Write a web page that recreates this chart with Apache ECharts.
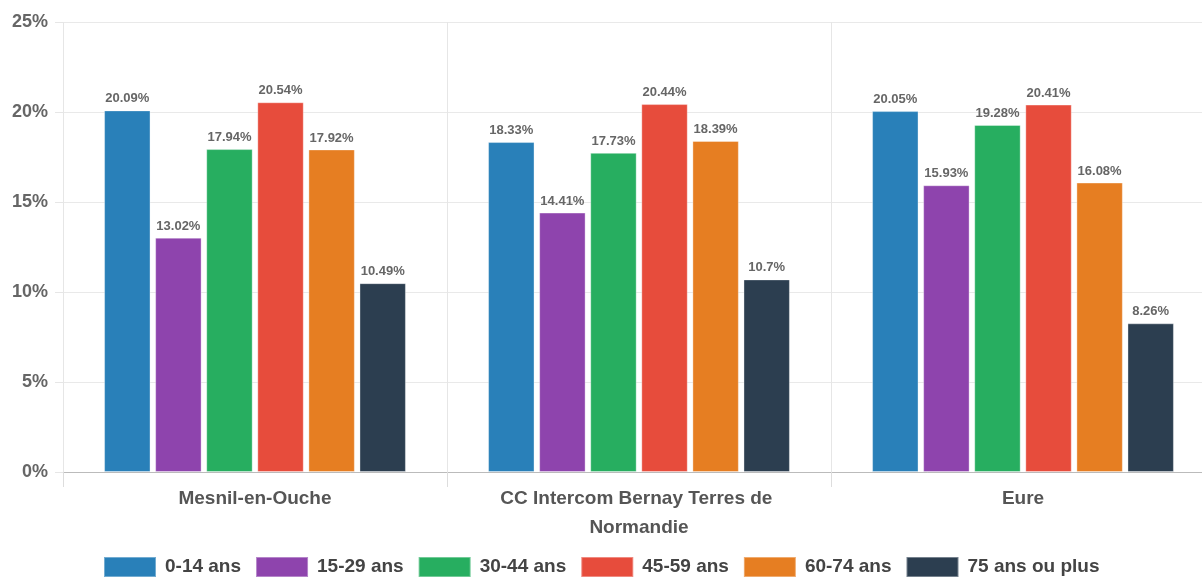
<!DOCTYPE html>
<html>
<head>
<meta charset="utf-8">
<script src="https://cdn.jsdelivr.net/npm/echarts@6/dist/echarts.min.js"></script>
<style>
  html, body { margin: 0; padding: 0; background: #fff; overflow: hidden; }
  /* un peu plus large que la fenêtre : la dernière catégorie est coupée à droite */
  #chart { width: 1215px; height: 577px; }
</style>
</head>
<body>
<div id="chart"></div>
<script>
// territoires et tranches d'âge
const territoires = ['Mesnil-en-Ouche', 'CC Intercom Bernay Terres de Normandie', 'Eure'];
const tranches = ['0-14 ans', '15-29 ans', '30-44 ans', '45-59 ans', '60-74 ans', '75 ans ou plus'];
const couleurs = ['#2980b9', '#8e44ad', '#27ae60', '#e74c3c', '#e67e22', '#2c3e50'];

// parts par tranche (une liste par tranche, dans l'ordre des territoires)
const part0_14 = [20.09, 18.33, 20.05];
const part15_29 = [13.02, 14.41, 15.93];
const part30_44 = [17.94, 17.73, 19.28];
const part45_59 = [20.54, 20.44, 20.41];
const part60_74 = [17.92, 18.39, 16.08];
const part75 = [10.49, 10.7, 8.26];
const valeurs = [part0_14, part15_29, part30_44, part45_59, part60_74, part75];

const yTicks = [0, 5, 10, 15, 20, 25];

let chart = echarts.init(document.getElementById('chart'));
chart.setOption({
  animation: false,
  textStyle: { fontFamily: 'Liberation Sans, Arial, sans-serif' },
  grid: { left: 63, top: 22, right: 0, bottom: 105, containLabel: false },
  legend: {
    top: 551,
    left: 98,
    itemWidth: 52,
    itemHeight: 20,
    itemGap: 14,
    icon: 'rect',
    textStyle: { fontSize: 19, fontWeight: 'bold', color: '#444', padding: [0, 0, 0, 4] },
    data: tranches
  },
  xAxis: {
    type: 'category',
    data: territoires,
    axisLine: { lineStyle: { color: '#bbb', width: 1 } },
    axisTick: { show: true, interval: 0, length: 15, lineStyle: { color: '#ddd' } },
    splitLine: { show: true, interval: 0, lineStyle: { color: '#e6e6e6' } },
    axisLabel: {
      interval: 0,
      fontSize: 19, fontWeight: 'bold', color: '#555',
      width: 340, overflow: 'break', lineHeight: 29, margin: 12
    }
  },
  yAxis: {
    type: 'value',
    min: 0, max: 25, interval: 5,
    axisLine: { show: false },
    axisTick: { show: true, length: 8, lineStyle: { color: '#e6e6e6' } },
    splitLine: { lineStyle: { color: '#e9e9e9' } },
    axisLabel: {
      fontSize: 18, fontWeight: 'bold', color: '#666', margin: 15,
      formatter: v => yTicks.includes(v) ? v + '%' : ''
    }
  },
  series: tranches.map((name, i) => ({
    name: name,
    type: 'bar',
    data: valeurs[i],
    barGap: '10%',
    barCategoryGap: '21.4%',
    itemStyle: { color: couleurs[i], borderColor: 'rgba(255,255,255,0.35)', borderWidth: 1 },
    label: {
      show: true, position: 'top', distance: 5,
      fontSize: 13, fontWeight: 'bold', color: '#666',
      formatter: p => p.value + '%'
    }
  }))
});
</script>
</body>
</html>
